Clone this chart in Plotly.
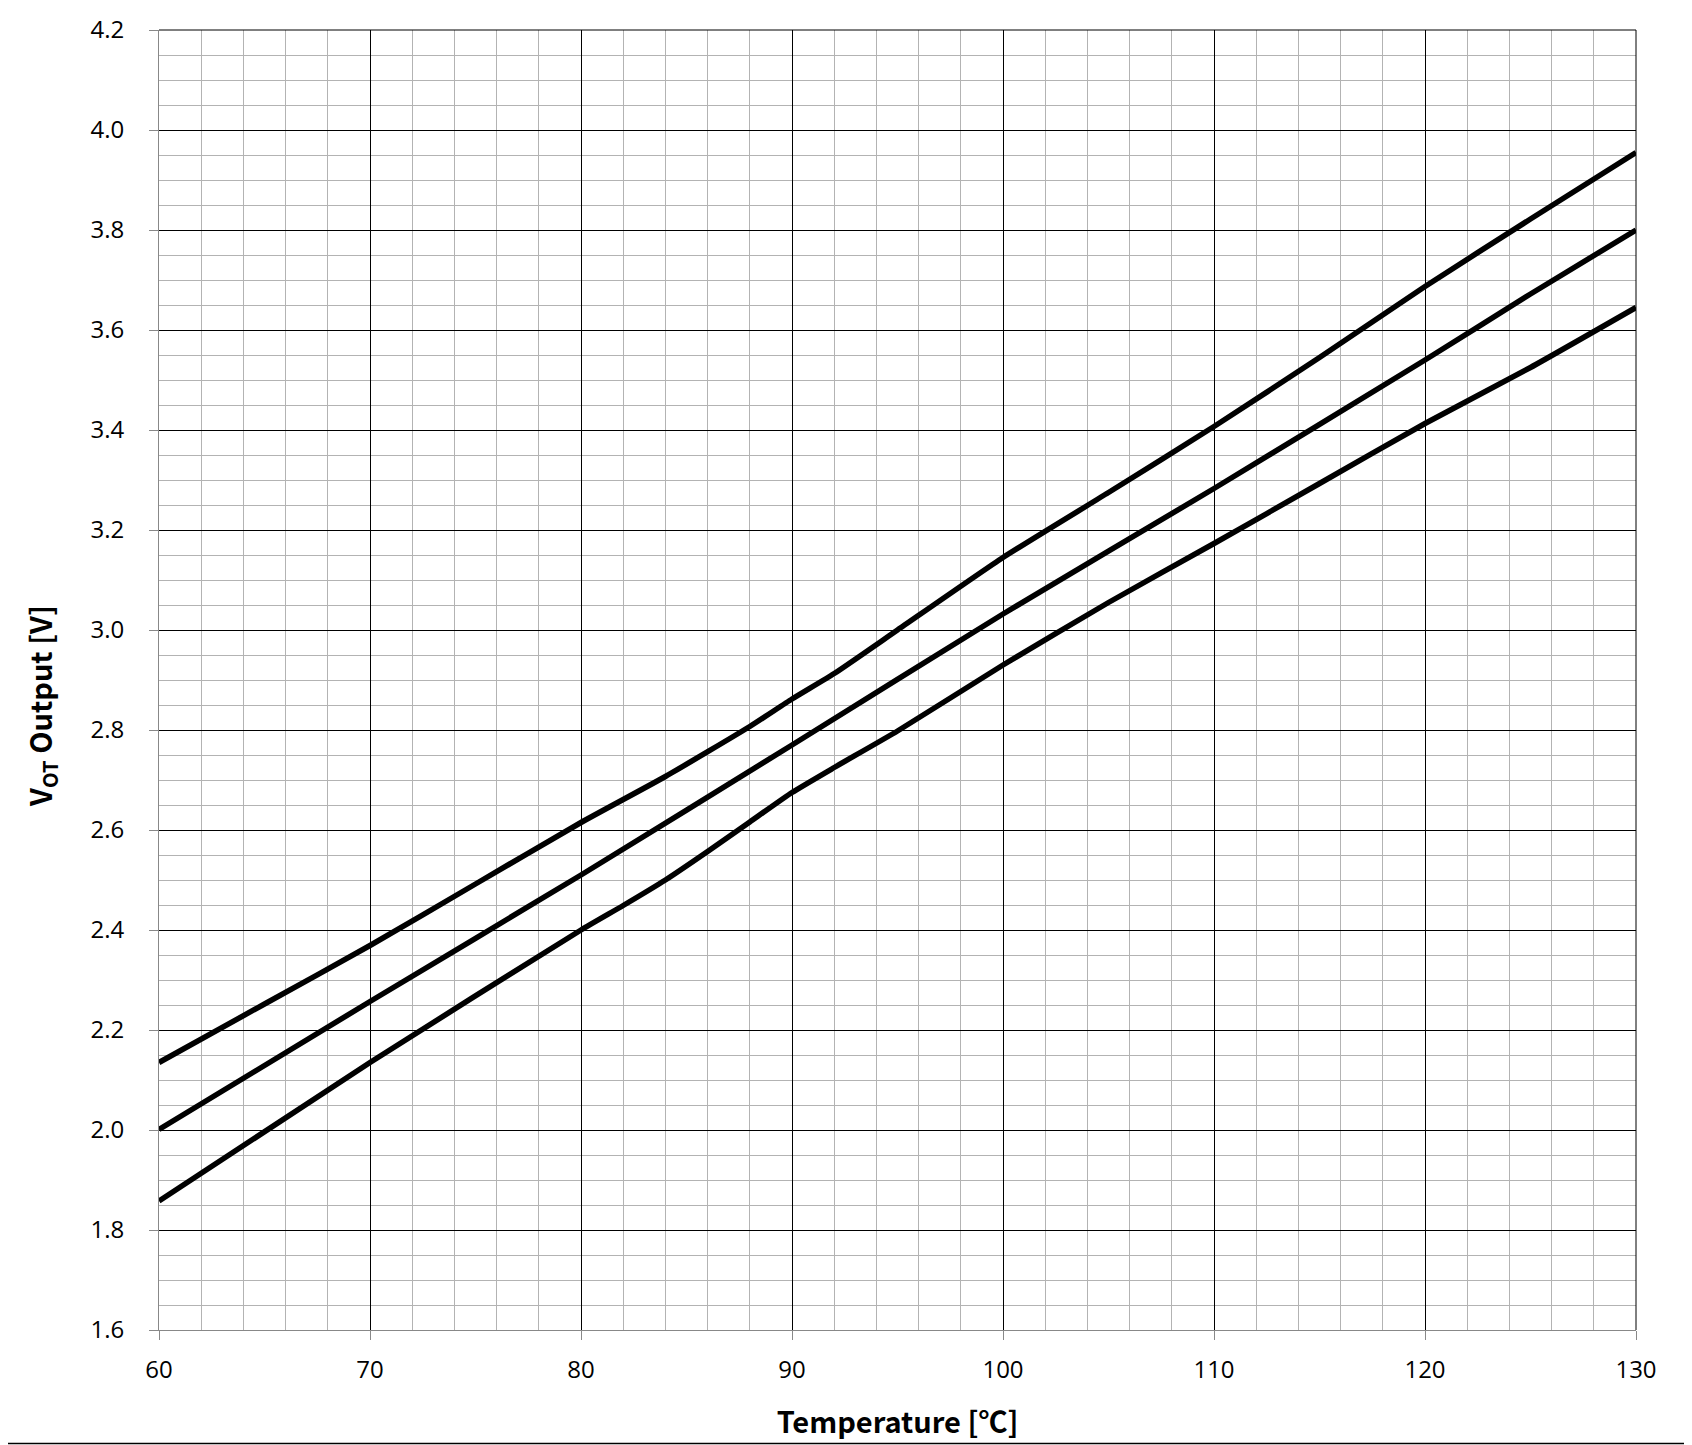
import plotly.graph_objects as go

# Temperature points (°C) and V_OT output (V) for three curves
temp_upper = [60, 65, 70, 75, 80, 84, 88, 90, 92, 95, 100, 105, 110, 115, 120, 125, 130]
v_upper = [2.135, 2.252, 2.369, 2.492, 2.615, 2.707, 2.807, 2.862, 2.913, 3.0, 3.145,
           3.275, 3.407, 3.545, 3.687, 3.822, 3.955]

temp_mid = [60, 70, 80, 90, 100, 110, 120, 125, 130]
v_mid = [2.001, 2.257, 2.51, 2.77, 3.032, 3.283, 3.54, 3.672, 3.80]

temp_lower = [60, 70, 80, 82, 84, 86, 88, 90, 92, 95, 100, 105, 110, 115, 120, 125, 130]
v_lower = [1.858, 2.135, 2.40, 2.449, 2.50, 2.557, 2.616, 2.675, 2.725, 2.798,
           2.93, 3.055, 3.173, 3.293, 3.413, 3.525, 3.645]

x_ticks = [60, 70, 80, 90, 100, 110, 120, 130]
y_ticks = [1.6, 1.8, 2.0, 2.2, 2.4, 2.6, 2.8, 3.0, 3.2, 3.4, 3.6, 3.8, 4.0, 4.2]
y_tick_labels = [f"{v:.1f}" for v in y_ticks]

x_title = "<b>Temperature [℃]</b>"
y_title = "<b>V<sub>OT</sub> Output [V]</b>"

FONT = "Open Sans, Noto Sans CJK JP, sans-serif"
TITLE_FONT = "Noto Sans CJK JP, Open Sans, sans-serif"

# page body has an 8px default margin; figure is offset by it
W, H = 1684, 1437
L, T, R, B = 151, 22, 56, 115
plot_w = W - L - R
plot_h = H - T - B

fig = go.Figure()
for xs, ys in [(temp_upper, v_upper), (temp_mid, v_mid), (temp_lower, v_lower)]:
    fig.add_trace(go.Scatter(x=xs, y=ys, mode="lines",
                             line=dict(color="black", width=5.5, shape="spline", smoothing=0.5),
                             showlegend=False, hoverinfo="skip"))

fig.update_layout(
    width=W, height=H,
    margin=dict(l=L, r=R, t=T, b=B, autoexpand=False),
    paper_bgcolor="white", plot_bgcolor="white",
    font=dict(family=FONT, size=24, color="black"),
)

fig.update_xaxes(
    range=[60, 130], tickvals=x_ticks, ticktext=[str(v) for v in x_ticks],
    showgrid=True, gridcolor="black", gridwidth=1,
    minor=dict(dtick=2, tick0=60, showgrid=True, gridcolor="#b3b3b3", gridwidth=1),
    showline=True, linecolor="#888888", linewidth=1,
    ticks="outside", ticklen=9, tickcolor="#888888", tickwidth=1,
    zeroline=False, ticklabelstandoff=9, automargin=False,
    title=dict(text=x_title, font=dict(size=29, family=TITLE_FONT), standoff=28),
)
fig.update_yaxes(
    range=[1.6, 4.2], tickvals=y_ticks, ticktext=y_tick_labels,
    showgrid=True, gridcolor="black", gridwidth=1,
    minor=dict(dtick=0.05, tick0=1.6, showgrid=True, gridcolor="#b3b3b3", gridwidth=1),
    showline=True, linecolor="#888888", linewidth=1,
    ticks="outside", ticklen=9, tickcolor="#888888", tickwidth=1,
    zeroline=False, ticklabelstandoff=20, automargin=False,
)

# y-axis title placed as rotated annotation (centre slightly below plot centre, as in reference)
fig.add_annotation(text=y_title, textangle=-90, showarrow=False,
                   xref="paper", yref="paper",
                   x=(33 - L) / plot_w, y=1 - (698 - T) / plot_h,
                   xanchor="center", yanchor="middle",
                   font=dict(size=29, family=TITLE_FONT, color="black"))

# top and right border (black), bottom page line
fig.add_shape(type="line", xref="paper", yref="paper", x0=0, x1=1, y0=1, y1=1,
              line=dict(color="black", width=1))
fig.add_shape(type="line", xref="paper", yref="paper", x0=1, x1=1, y0=0, y1=1,
              line=dict(color="black", width=1))
fig.add_shape(type="line", xref="paper", yref="paper",
              x0=-L / plot_w, x1=(W - L) / plot_w,
              y0=-(B - 1.5) / plot_h, y1=-(B - 1.5) / plot_h,
              line=dict(color="black", width=1.5))

fig.write_html("out.html")
